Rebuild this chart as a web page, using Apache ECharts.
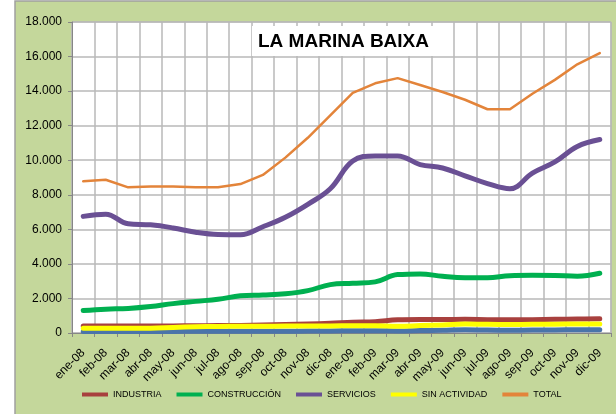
<!DOCTYPE html>
<html>
<head>
<meta charset="utf-8">
<title>LA MARINA BAIXA</title>
<script src="https://cdn.jsdelivr.net/npm/echarts@6/dist/echarts.min.js"></script>
<style>
  html, body { margin: 0; padding: 0; background: #fff; }
  #chart { width: 616px; height: 414px; }
</style>
</head>
<body>
<div id="chart"></div>
<script>
// datos (parados por sector, La Marina Baixa)
var months = ["ene-08", "feb-08", "mar-08", "abr-08", "may-08", "jun-08", "jul-08", "ago-08",
  "sep-08", "oct-08", "nov-08", "dic-08", "ene-09", "feb-09", "mar-09", "abr-09",
  "may-09", "jun-09", "jul-09", "ago-09", "sep-09", "oct-09", "nov-09", "dic-09"];

var agricultura = [80, 80, 80, 80, 90, 100, 100, 100, 100, 100, 110, 120,
  130, 130, 120, 140, 160, 190, 170, 160, 170, 180, 190, 190];
var industria = [410, 410, 405, 400, 410, 420, 430, 440, 460, 490, 520, 560,
  620, 650, 760, 780, 780, 790, 770, 760, 770, 790, 810, 820];
var construccion = [1300, 1380, 1420, 1530, 1700, 1830, 1950, 2150, 2200, 2270, 2450, 2800,
  2880, 2960, 3380, 3420, 3280, 3200, 3200, 3320, 3340, 3330, 3290, 3460];
var servicios = [6750, 6880, 6320, 6260, 6080, 5830, 5700, 5690, 6150, 6700, 7450, 8350,
  9950, 10250, 10250, 9750, 9550, 9100, 8650, 8350, 9250, 9900, 10800, 11200];
var sinActividad = [270, 270, 270, 280, 320, 360, 380, 390, 390, 400, 400, 410,
  420, 420, 390, 430, 470, 520, 500, 490, 500, 510, 520, 520];
var total = [8780, 8870, 8430, 8480, 8480, 8430, 8430, 8620, 9150, 10150, 11300, 12600,
  13900, 14450, 14750, 14350, 13950, 13500, 12950, 12950, 13850, 14650, 15550, 16200];

var yTicks = { min: 0, max: 18000, step: 2000 };

var chart = echarts.init(document.getElementById("chart"));

function miles(v) {
  return String(v).replace(/\B(?=(\d{3})+(?!\d))/g, ".");
}

function serie(name, data, color, width, smooth) {
  return {
    name: name,
    type: "line",
    data: data,
    smooth: smooth,
    symbol: "none",
    lineStyle: { color: color, width: width, cap: "round", join: "round" },
    itemStyle: { color: color }
  };
}

var option = {
  animation: false,
  textStyle: { fontFamily: "Liberation Sans" },
  graphic: [
    {
      type: "rect",
      z: -10,
      silent: true,
      shape: { x: 15, y: 1, width: 610, height: 420 },
      style: { fill: "#c4d79b", stroke: "#a0a0a0", lineWidth: 1.5 }
    }
  ],
  title: {
    text: "LA MARINA BAIXA",
    left: 252,
    top: 26,
    backgroundColor: "#fff",
    padding: [6, 6, 5, 6],
    textStyle: { fontSize: 19, fontWeight: "bold", color: "#000", fontFamily: "Liberation Sans" }
  },
  legend: {
    data: ["INDUSTRIA", "CONSTRUCCIÓN", "SERVICIOS", "SIN ACTIVIDAD", "TOTAL"],
    left: 82,
    top: 390,
    padding: 0,
    itemWidth: 26,
    itemHeight: 4,
    itemGap: 15,
    icon: "rect",
    textStyle: { fontSize: 9, color: "#000" }
  },
  grid: {
    left: 72,
    right: 5,
    top: 22,
    bottom: 81,
    show: true,
    backgroundColor: "#fff",
    borderColor: "#b0b0b0",
    borderWidth: 1
  },
  xAxis: {
    type: "category",
    data: months,
    boundaryGap: true,
    axisLine: { lineStyle: { color: "#868686", width: 1 } },
    axisTick: { show: true, length: 4, lineStyle: { color: "#868686" } },
    splitLine: { show: true, lineStyle: { color: "#b8b8b8", width: 1.5 } },
    axisLabel: { interval: 0, rotate: 45, margin: 18, fontSize: 12, color: "#000" }
  },
  yAxis: {
    type: "value",
    min: yTicks.min,
    max: yTicks.max,
    interval: yTicks.step,
    axisLine: { show: true, lineStyle: { color: "#868686", width: 1 } },
    axisTick: { show: true, length: 4, lineStyle: { color: "#868686" } },
    splitLine: { show: true, lineStyle: { color: "#b8b8b8", width: 1.5 } },
    axisLabel: { margin: 10, fontSize: 12, color: "#000", formatter: miles }
  },
  series: [
    serie("AGRICULTURA", agricultura, "#4a74aa", 5, 0.4),
    serie("INDUSTRIA", industria, "#a8403e", 5, 0.4),
    serie("CONSTRUCCIÓN", construccion, "#00b050", 5, 0.4),
    serie("SERVICIOS", servicios, "#6a5094", 5, 0.4),
    serie("SIN ACTIVIDAD", sinActividad, "#ffff00", 5, 0.4),
    serie("TOTAL", total, "#e3843a", 2.5, false)
  ]
};

chart.setOption(option);
</script>
</body>
</html>
